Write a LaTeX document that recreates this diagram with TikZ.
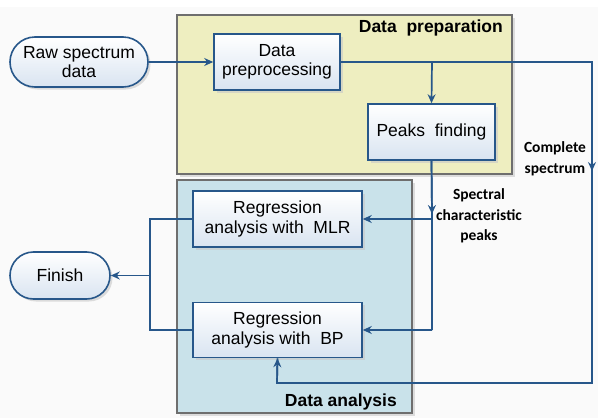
\documentclass[tikz,border=0pt]{standalone}
\usepackage{fontspec}
\setmainfont{Liberation Sans}
\newfontfamily\lblfont{Carlito}
\usetikzlibrary{shapes.misc,shadows,arrows.meta}
\definecolor{lineblue}{HTML}{27578A}
\definecolor{prepfill}{HTML}{EEEEC0}
\definecolor{anafill}{HTML}{C9E2EA}
\definecolor{grpborder}{HTML}{6E6E6E}
\definecolor{nodebot}{HTML}{D9E4F1}
\tikzset{
  procbox/.style={draw=lineblue, line width=1.6pt, rectangle, top color=white, bottom color=nodebot,
    align=center, font=\fontsize{17.5}{19.5}\selectfont, inner sep=0pt,
    drop shadow={shadow xshift=2.5pt, shadow yshift=-2.5pt, fill=black!22, opacity=0.6}},
  termbox/.style={procbox, rounded rectangle},
  group/.style={draw=grpborder, line width=1.5pt,
    drop shadow={shadow xshift=2.5pt, shadow yshift=-2.5pt, fill=black!25, opacity=0.5}},
  conn/.style={draw=lineblue, line width=1.7pt},
  arr/.style={conn, -{Stealth[length=9pt, width=8pt, inset=3pt]}},
  lbl/.style={font=\lblfont\bfseries\fontsize{15.5}{20.5}\selectfont, align=center, inner sep=0pt},
  grplbl/.style={font=\bfseries\fontsize{17.5}{19}\selectfont, inner sep=0pt}
}
\begin{document}
\begin{tikzpicture}[x=1pt, y=-1pt]
\useasboundingbox (0,0) rectangle (598,418);
\fill[white] (0,0) rectangle (598,418);
\fill[black!2] (0,7) rectangle (598,418);
% groups
\draw[group, fill=prepfill] (177,15) rectangle (512,174);
\draw[group, fill=anafill] (177,180) rectangle (412,413);
\node[grplbl, anchor=north east] (preplbl) at (503,20) {Data\ \ preparation};
\node[grplbl, anchor=south east] (analbl) at (397,410) {Data analysis};
% nodes
\node[termbox, minimum width=138pt, minimum height=50pt] (raw) at (79,62) {Raw spectrum\\data};
\node[procbox, minimum width=126pt, minimum height=56pt] (pre) at (277,62) {Data\\preprocessing};
\node[procbox, minimum width=127pt, minimum height=56pt] (peaks) at (431.5,132) {Peaks\ \ finding};
\node[procbox, minimum width=169pt, minimum height=56pt] (mlr) at (277.5,219) {Regression\\analysis with\ \ MLR};
\node[procbox, minimum width=169pt, minimum height=55pt] (bp) at (277.5,330) {Regression\\analysis with\ \ BP};
\node[termbox, minimum width=100pt, minimum height=47pt] (fin) at (60,275.5) {Finish};
% coordinates
\coordinate (j1) at (432,62);
\coordinate (r1) at (592,62);
\coordinate (r2) at (592,383);
\coordinate (r3) at (277,383);
\coordinate (j2) at (432,219);
\coordinate (j3) at (432,330);
\coordinate (l1) at (150,219);
\coordinate (l2) at (150,330);
\coordinate (l3) at (150,275.5);
\coordinate (ma) at (592,171);
\coordinate (mb) at (432,214);
% connectors
\draw[arr] (raw.east) -- (pre.west);
\draw[conn] (pre.east |- j1) -- (r1) -- (r2) -- (r3) -- (bp.south);
\draw[arr] (r3) -- (bp.south);
\draw[arr] (r1) -- (ma);
\draw[arr] (j1) -- (peaks.north);
\draw[conn] (peaks.south) -- (j2) -- (j3);
\draw[arr] (peaks.south) -- (mb);
\draw[arr] (j2) -- (mlr.east);
\draw[arr] (j3) -- (bp.east);
\draw[conn] (mlr.west) -- (l1) -- (l2) -- (bp.west);
\draw[arr] (l3) -- (fin.east);
% labels
\node[lbl] (cs) at (555,159) {Complete\\spectrum};
\node[lbl] (scp) at (479,216) {Spectral\\characteristic\\peaks};
\end{tikzpicture}
\end{document}
